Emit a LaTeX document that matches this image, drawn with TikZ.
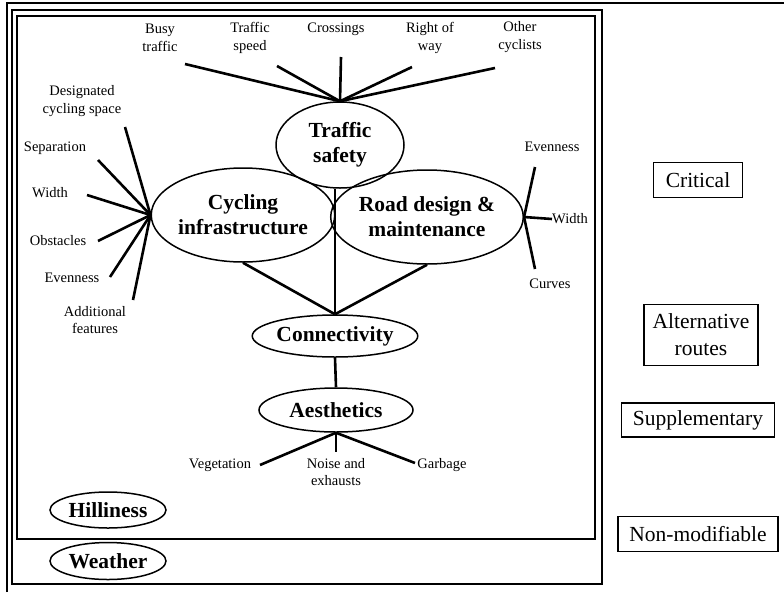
\documentclass[tikz,border=0pt]{standalone}
\usepackage{fontspec}
\setmainfont{Liberation Serif}
\usetikzlibrary{shapes.geometric}
\begin{document}
\begin{tikzpicture}[x=1pt,y=-1pt,
  bigell/.style={draw, ellipse, line width=1.5pt, inner sep=0pt, align=center,
     font=\fontsize{21.5}{25}\selectfont\bfseries},
  lab/.style={inner sep=0pt, align=center, font=\fontsize{14.5}{17.5}\selectfont},
  legend/.style={draw, line width=1.4pt, inner sep=0pt, align=center,
     font=\fontsize{21.5}{27}\selectfont},
  conn/.style={line width=2.6pt},
  frame/.style={line width=1.5pt}]
\useasboundingbox (0,0) rectangle (784,592);
% frames
\draw[frame] (7,592) -- (7,3) -- (784,3);
\draw[frame] (12,10) rectangle (602,584);
\draw[frame] (17,16) rectangle (595,539);
% main ellipses
\node[bigell, minimum width=128pt, minimum height=86pt] (ts) at (340,145) {Traffic\\safety};
\node[bigell, minimum width=180pt, minimum height=94pt] (ci) at (243,215) {Cycling\\infrastructure};
\node[bigell, minimum width=180pt, minimum height=94pt] (rd) at (427,217) {Road design \&\\maintenance};
\node[bigell, minimum width=154pt, minimum height=42pt] (cn) at (335,336) {Connectivity};
\node[bigell, minimum width=154pt, minimum height=44pt] (ae) at (336,410) {Aesthetics};
\node[bigell, minimum width=116pt, minimum height=36pt] (hl) at (108,510) {Hilliness};
\node[bigell, minimum width=116pt, minimum height=37pt] (wt) at (108,561) {Weather};
% traffic safety labels
\node[lab] (l1) at (160,38) {Busy\\traffic};
\node[lab] (l2) at (250,38) {Traffic\\speed};
\node[lab] (l3) at (336,29) {Crossings};
\node[lab] (l4) at (430,38) {Right of\\way};
\node[lab] (l5) at (520,37) {Other\\cyclists};
\coordinate (e1) at (185,64);
\coordinate (e2) at (277,66);
\coordinate (e3) at (341,57);
\coordinate (e4) at (412,67);
\coordinate (e5) at (495,68);
\foreach \e in {e1,e2,e3,e4,e5} \draw[conn] (ts.north) -- (\e);
% cycling infrastructure labels
\node[lab] (c1) at (82,101) {Designated\\cycling space};
\node[lab] (c2) at (55,148) {Separation};
\node[lab] (c3) at (50,193) {Width};
\node[lab] (c4) at (58,241) {Obstacles};
\node[lab] (c5) at (72,278) {Evenness};
\node[lab] (c6) at (95,320) {Additional\\features};
\coordinate (f1) at (125,127);
\coordinate (f2) at (98,160);
\coordinate (f3) at (87,195);
\coordinate (f4) at (98,241);
\coordinate (f5) at (110,277);
\coordinate (f6) at (133,300);
\foreach \f in {f1,f2,f3,f4,f5,f6} \draw[conn] (ci.west) -- (\f);
% road design labels
\node[lab] (r1) at (552,147) {Evenness};
\node[lab, anchor=west] (r2) at (552,219) {Width};
\node[lab] (r3) at (550,284) {Curves};
\coordinate (g1) at (535,167);
\coordinate (g2) at (552,219);
\coordinate (g3) at (535,269);
\foreach \g in {g1,g2,g3} \draw[conn] (rd.east) -- (\g);
% links to connectivity
\draw[conn] (ci.south) -- (cn.north);
\draw[conn] (rd.south) -- (cn.north);
\draw[conn] (cn.north) -- (cn.north |- ts.south);
\draw[conn] (cn.south) -- (ae.north);
% aesthetics labels
\node[lab] (a1) at (220,465) {Vegetation};
\node[lab] (a2) at (336,472) {Noise and\\exhausts};
\node[lab] (a3) at (442,465) {Garbage};
\coordinate (h1) at (260,465);
\coordinate (h2) at (336,452);
\coordinate (h3) at (415,463);
\foreach \h in {h1,h2,h3} \draw[conn] (ae.south) -- (\h);
% legend
\node[legend, minimum width=89pt, minimum height=35pt] (k1) at (698,180) {Critical};
\node[legend, minimum width=114pt, minimum height=61pt] (k2) at (701,335) {Alternative\\routes};
\node[legend, minimum width=153pt, minimum height=34pt] (k3) at (698,420) {Supplementary};
\node[legend, minimum width=160pt, minimum height=35pt] (k4) at (698,534) {Non-modifiable};
\end{tikzpicture}
\end{document}
